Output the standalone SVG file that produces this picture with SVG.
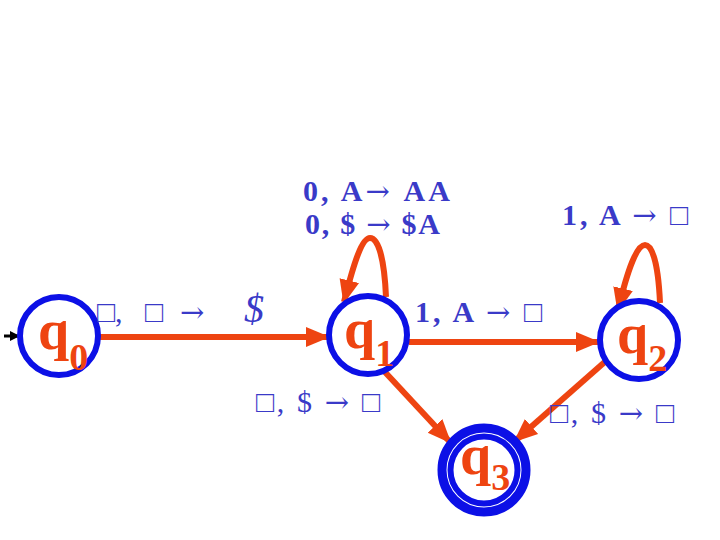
<svg xmlns="http://www.w3.org/2000/svg" width="720" height="540" viewBox="0 0 720 540">
<style>
.st{fill:#fff;stroke:#0c10e6;stroke-width:6}
.sl{font-family:"Liberation Serif","Times New Roman",serif;fill:#ee4411;font-weight:bold}
.q{font-size:56px}
.sub{font-size:38px}
.lb{font-family:"Liberation Serif","Times New Roman","DejaVu Serif",serif;fill:#3a3ac8;font-size:30px}
.b{font-weight:bold}
.ar{font-family:"DejaVu Serif",serif;font-weight:normal;font-size:29px}
.e{fill:none;stroke:#ee4411;stroke-width:6}
</style>
<defs>
<marker id="ah" markerUnits="userSpaceOnUse" markerWidth="24" markerHeight="24" viewBox="0 0 24 24" refX="22" refY="12" orient="auto">
<path d="M0,2 L24,12 L0,22 Z" fill="#ee4411"/>
</marker>
<marker id="sa" markerUnits="userSpaceOnUse" markerWidth="10" markerHeight="10" viewBox="0 0 10 10" refX="9" refY="5" orient="auto">
<path d="M0,0 L10,5 L0,10 Z" fill="#000"/>
</marker>
</defs>
<rect width="720" height="540" fill="#fff"/>
<g id="connectors">
<line x1="4" y1="336" x2="19" y2="336" stroke="#000" stroke-width="3" marker-end="url(#sa)"/>
<line class="e" x1="100" y1="337" x2="328" y2="337" marker-end="url(#ah)"/>
<line class="e" x1="409" y1="342" x2="598" y2="342" marker-end="url(#ah)"/>
<line class="e" x1="384" y1="371" x2="450" y2="442" marker-end="url(#ah)"/>
<line class="e" x1="607" y1="360" x2="515" y2="441" marker-end="url(#ah)"/>
<path class="e" d="M386,297 C384,250 376,238 370,238 C362,238 354,262 344,302" marker-end="url(#ah)"/>
<path class="e" d="M660,303 C658,258 651,245 645,245 C637,245 628,268 618,310" marker-end="url(#ah)"/>
</g>
<g id="q0">
<circle class="st" cx="59" cy="336" r="39"/>
<text class="sl" x="38" y="349"><tspan class="q">q</tspan><tspan class="sub" dy="21">0</tspan></text>
</g>
<g id="q1">
<circle class="st" cx="368" cy="335" r="39"/>
<text class="sl" x="344" y="348"><tspan class="q">q</tspan><tspan class="sub" dy="18">1</tspan></text>
</g>
<g id="q2">
<circle class="st" cx="639" cy="340" r="39"/>
<text class="sl" x="617" y="353"><tspan class="q">q</tspan><tspan class="sub" dy="18">2</tspan></text>
</g>
<g id="q3">
<circle cx="484" cy="470" r="42" fill="#fff" stroke="#0c10e6" stroke-width="9"/>
<circle cx="484" cy="470" r="33.5" fill="none" stroke="#0c10e6" stroke-width="6"/>
<text class="sl" x="460" y="474"><tspan class="q">q</tspan><tspan class="sub" dy="16">3</tspan></text>
</g>
<g id="labels">
<text class="lb" x="303" y="201" font-size="29" textLength="147" lengthAdjust="spacing"><tspan class="b">0, A</tspan><tspan class="ar">→</tspan>  <tspan class="b">AA</tspan></text>
<text class="lb" x="305" y="234" font-size="29" textLength="135" lengthAdjust="spacing"><tspan class="b">0, $ </tspan><tspan class="ar">→</tspan> <tspan class="b">$A</tspan></text>
<text class="lb" x="562" y="225" textLength="126" lengthAdjust="spacing"><tspan class="b">1, A </tspan><tspan class="ar">→</tspan>  □</text>
<text class="lb" x="415" y="322" textLength="127" lengthAdjust="spacing"><tspan class="b">1, A </tspan><tspan class="ar">→</tspan>  □</text>
<text class="lb" y="322"><tspan x="97">□,</tspan><tspan x="145">□</tspan><tspan class="ar" x="180" font-size="32">→</tspan><tspan x="244" font-style="italic" font-size="40">$</tspan></text>
<text class="lb" x="256" y="412" textLength="124" lengthAdjust="spacing">□, $ <tspan class="ar">→</tspan>  □</text>
<text class="lb" x="550" y="423" textLength="124" lengthAdjust="spacing">□, $ <tspan class="ar">→</tspan>  □</text>
</g>
</svg>
